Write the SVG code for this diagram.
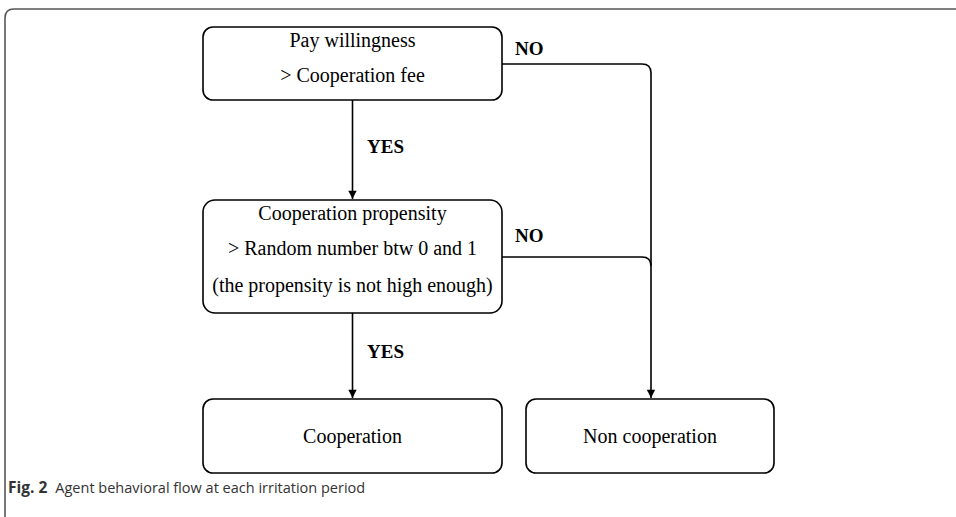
<svg xmlns="http://www.w3.org/2000/svg" width="956" height="517" viewBox="0 0 956 517">
<defs>
<marker id="arr" viewBox="0 0 10 12" refX="10" refY="5" markerWidth="10" markerHeight="10" orient="auto" markerUnits="userSpaceOnUse">
<path d="M0,0 L10,5 L0,10 Z" fill="#000"/>
</marker>
</defs>
<style>
.box{fill:#fff;stroke:#000;stroke-width:1.6}
.t{font-family:"Liberation Serif","Times New Roman",serif;font-size:20px;fill:#000;text-anchor:middle}
.lbl{font-family:"Liberation Serif","Times New Roman",serif;font-size:19px;font-weight:bold;fill:#000}
.c{fill:none;stroke:#000;stroke-width:1.6}
.cap{font-family:"Open Sans","Noto Sans",sans-serif;font-size:14.5px;fill:#333}
</style>
<rect width="956" height="517" fill="#fff"/>
<path d="M5,522 V18 Q5,9 14,9 H960" fill="none" stroke="#555" stroke-width="1.6"/>
<g id="connectors">
<line class="c" x1="352.5" y1="100" x2="352.5" y2="199" marker-end="url(#arr)"/>
<line class="c" x1="352.5" y1="313" x2="352.5" y2="398" marker-end="url(#arr)"/>
<path class="c" d="M502,64 H642 Q651,64 651,73 V398" marker-end="url(#arr)"/>
<path class="c" d="M502,257 H642 Q651,257 651,266"/>
<text class="lbl" x="367" y="153">YES</text>
<text class="lbl" x="367" y="358">YES</text>
<text class="lbl" x="515" y="55">NO</text>
<text class="lbl" x="515" y="242">NO</text>
</g>
<g id="n1">
<rect class="box" x="203" y="27" width="299" height="73" rx="10"/>
<text class="t" x="352.5" y="47">Pay willingness</text>
<text class="t" x="352.5" y="82">&gt; Cooperation fee</text>
</g>
<g id="n2">
<rect class="box" x="203" y="200" width="299" height="113" rx="12"/>
<text class="t" x="352.5" y="220">Cooperation propensity</text>
<text class="t" x="352.5" y="255">&gt; Random number btw 0 and 1</text>
<text class="t" x="352.5" y="292">(the propensity is not high enough)</text>
</g>
<g id="n3">
<rect class="box" x="203" y="399" width="299" height="74" rx="10"/>
<text class="t" x="352.5" y="443">Cooperation</text>
</g>
<g id="n4">
<rect class="box" x="526" y="399" width="248" height="74" rx="10"/>
<text class="t" x="650" y="443">Non cooperation</text>
</g>
<g id="caption">
<text class="cap" x="8" y="493"><tspan font-weight="bold" font-size="15.5px">Fig. 2</tspan><tspan dx="8">Agent behavioral flow at each irritation period</tspan></text>
</g>
</svg>
